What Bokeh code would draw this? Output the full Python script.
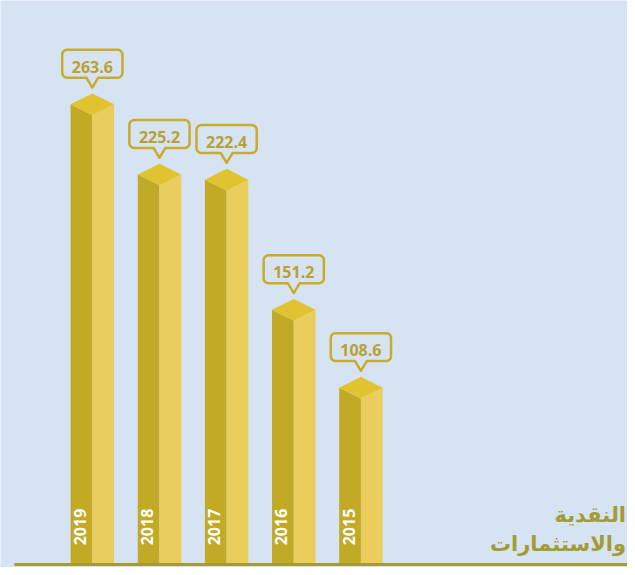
import math
from bokeh.plotting import figure
from bokeh.models import Range1d, ColumnDataSource
from bokeh.core.properties import value
from bokeh.embed import file_html
from bokeh.resources import INLINE

# ---- data ----
years = ["2019", "2018", "2017", "2016", "2015"]
values = [263.6, 225.2, 222.4, 151.2, 108.6]
labels = ["263.6", "225.2", "222.4", "151.2", "108.6"]
title_lines = ["النقدية", "والاستثمارات"]

# ---- layout ----
W, H = 627, 567          # figure size (fits 635x575 window with 8px margin)
RW, RH = 635.0, 575.0    # design size
KX, KY = W / RW, H / RH
SX = 68.0      # design px per x unit (bar spacing)
SY = 1.854     # design px per value unit
X0PX = 93.0    # design x of first bar centre
Y0PX = 583.0   # design y of value zero
x0 = -X0PX / SX
x1 = (RW - X0PX) / SX
y_bottom = (Y0PX - RH) / SY
y_top = Y0PX / SY
base = (Y0PX - 572.0) / SY   # baseline value

BG = "#d6e3f3"
LEFT = "#c2a926"
TOP = "#e1c330"
RIGHT = "#eacd5c"
OUTLINE = "#c8ac2c"
LABEL = "#b9a02f"
OLIVE = "#a39b33"

p = figure(width=W, height=H, x_range=Range1d(x0, x1), y_range=Range1d(y_bottom, y_top),
           output_backend="svg", toolbar_location=None, min_border=0,
           background_fill_color=BG, border_fill_color=BG, outline_line_color=None)
p.axis.visible = False
p.grid.visible = False

xs_idx = list(range(len(values)))
hw = 22.0 / SX          # half width of bar (data units)
dep = 11.0 / SY         # vertical depth of top diamond (data units)

lx, ly, rx, ry, tx, ty = [], [], [], [], [], []
for i, v in zip(xs_idx, values):
    corner = v - dep
    front = v - 2 * dep
    lx.append([i - hw, i - hw, i, i]); ly.append([base, corner, front, base])
    rx.append([i, i, i + hw, i + hw]); ry.append([base, front, corner, base])
    tx.append([i - hw, i, i + hw, i]); ty.append([corner, v, corner, front])

p.patches(lx, ly, fill_color=LEFT, line_color=None)
p.patches(rx, ry, fill_color=RIGHT, line_color=None)
p.patches(tx, ty, fill_color=TOP, line_color=None)

# callout boxes (design-pixel offsets relative to bar top)
def callout(cx, peak):
    bw, top, bot, r, ph, tip = 30.5, -44.3, -16.0, 5.0, 6.0, -6.0
    pts = []
    def arc(cxp, cyp, a0, a1):
        for k in range(7):
            a = a0 + (a1 - a0) * k / 6
            pts.append((cxp + r * math.cos(a), cyp + r * math.sin(a)))
    arc(bw - r, top + r, -math.pi / 2, 0)
    arc(bw - r, bot - r, 0, math.pi / 2)
    pts.append((ph, bot)); pts.append((0, tip)); pts.append((-ph, bot))
    arc(-bw + r, bot - r, math.pi / 2, math.pi)
    arc(-bw + r, top + r, math.pi, 1.5 * math.pi)
    return [cx + dx / SX for dx, dy in pts], [peak - dy / SY for dx, dy in pts]

cxs, cys = [], []
for i, v in zip(xs_idx, values):
    a, b = callout(i, v)
    cxs.append(a); cys.append(b)
p.patches(cxs, cys, fill_alpha=0, line_color=OUTLINE, line_width=2.5, line_join="round")

src = ColumnDataSource(dict(x=xs_idx, v=values, lab=labels, yr=years,
                            b=[base] * len(values)))
p.text(x="x", y="v", text="lab", source=src, y_offset=-27.3 * KY, text_align="center",
       text_baseline="middle", text_color=LABEL, text_font=value("Open Sans"),
       text_font_style="bold", text_font_size="16px")
p.text(x="x", y="b", text="yr", source=src, angle=math.pi / 2,
       x_offset=-12.5 * KX, y_offset=-19.5 * KY,
       text_align="left", text_baseline="middle", text_color="white",
       text_font=value("Open Sans"), text_font_style="bold", text_font_size="16px")

# baseline
p.segment(x0=[x0 + 14.0 / SX], y0=[base], x1=[x1], y1=[base], line_color=OLIVE, line_width=3)

# Arabic caption
p.text(x=[x1 - 1.5 / SX, x1 - 1.5 / SX], y=[base, base], text=title_lines,
       y_offset=[-50.5 * KY, -20.5 * KY], text_align="right", text_baseline="alphabetic",
       text_color=OLIVE, text_font=value("DejaVu Sans"), text_font_style="bold",
       text_font_size="21px")

open("out.html", "w").write(file_html(p, INLINE))
